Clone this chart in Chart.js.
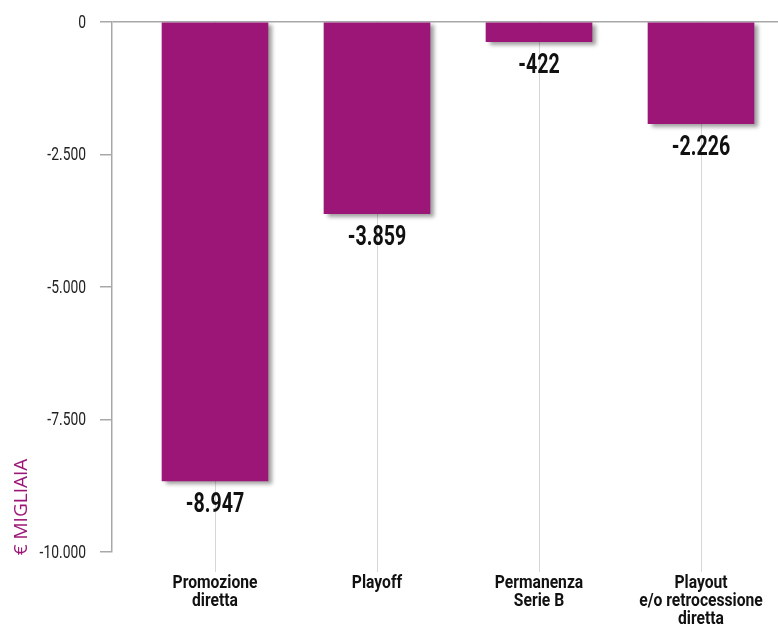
<!DOCTYPE html>
<html>
<head>
<meta charset="utf-8">
<script src="https://cdn.jsdelivr.net/npm/chart.js@4/dist/chart.umd.min.js"></script>
<style>
  html, body { margin: 0; padding: 0; background: #fff; }
  #wrap { width: 778px; height: 629px; }
</style>
</head>
<body>
<div id="wrap"><canvas id="chart" width="778" height="629"></canvas></div>
<script>
// scenari e valori (altezze barre, etichette come stampate)
const categories = [
  ['Promozione', 'diretta'],
  ['Playoff'],
  ['Permanenza', 'Serie B'],
  ['Playout', 'e/o retrocessione', 'diretta']
];
const barValues = [-8660, -3617, -372, -1919];
const valueLabels = ['-8.947', '-3.859', '-422', '-2.226'];
const yTicks = [0, -2500, -5000, -7500, -10000];
const yTickLabels = ['0', '-2.500', '-5.000', '-7.500', '-10.000'];
const yTitle = '€ MIGLIAIA';

const PURPLE = '#9c1677';
const AXIS = '#a8a8a8';
const FONT = "Roboto, 'DejaVu Sans', sans-serif";

// testo "condensato": il font originale è molto stretto
function narrowText(ctx, text, x, y, sx) {
  ctx.save();
  ctx.translate(x, y);
  ctx.scale(sx, 1);
  ctx.fillText(text, 0, 0);
  ctx.restore();
}

// ombra sotto le barre
const barShadow = {
  id: 'barShadow',
  beforeDatasetsDraw(chart) {
    const ctx = chart.ctx;
    ctx.save();
    ctx.shadowColor = 'rgba(0,0,0,0.38)';
    ctx.shadowBlur = 4;
    ctx.shadowOffsetX = 4;
    ctx.shadowOffsetY = 3;
  },
  afterDatasetsDraw(chart) {
    chart.ctx.restore();
  }
};

// etichette: valori, assi, titolo asse y
const labelsPlugin = {
  id: 'labelsPlugin',
  afterDraw(chart) {
    const ctx = chart.ctx;
    const xs = chart.scales.x;
    const ys = chart.scales.y;
    const meta = chart.getDatasetMeta(0);
    ctx.save();
    ctx.textBaseline = 'middle';

    // valori sotto le barre
    ctx.fillStyle = '#111';
    ctx.textAlign = 'center';
    ctx.font = 'bold 28px ' + FONT;
    meta.data.forEach((bar, i) => {
      narrowText(ctx, valueLabels[i], bar.x, bar.y + 24, 0.7);
    });

    // etichette categorie
    ctx.font = 'bold 18px ' + FONT;
    categories.forEach((lines, i) => {
      const x = xs.getPixelForValue(i);
      lines.forEach((t, j) => {
        narrowText(ctx, t, x, ys.bottom + 31 + j * 18, 0.87);
      });
    });

    // etichette asse y
    ctx.fillStyle = '#222';
    ctx.textAlign = 'right';
    ctx.font = '18px ' + FONT;
    yTicks.forEach((v, i) => {
      narrowText(ctx, yTickLabels[i], 86, ys.getPixelForValue(v) + 1, 0.77);
    });

    // titolo asse y
    ctx.translate(22, 507);
    ctx.rotate(-Math.PI / 2);
    ctx.textAlign = 'center';
    ctx.fillStyle = PURPLE;
    ctx.font = "19px 'Open Sans', sans-serif";
    ctx.fillText(yTitle, 0, 0);
    ctx.restore();
  }
};

const spacing = 162;        // distanza tra i centri delle barre
const xMin = -(215 - 112) / spacing;
const xMax = xMin + 666 / spacing;

new Chart(document.getElementById('chart'), {
  type: 'bar',
  data: {
    datasets: [{
      data: barValues.map((v, i) => ({ x: i, y: v })),
      backgroundColor: PURPLE,
      borderWidth: 0,
      barThickness: 106
    }]
  },
  options: {
    responsive: false,
    animation: false,
    layout: { padding: { top: 22, left: 0, right: 0, bottom: 0 } },
    plugins: {
      legend: { display: false },
      tooltip: { enabled: false }
    },
    scales: {
      x: {
        type: 'linear',
        min: xMin,
        max: xMax,
        offset: false,
        afterBuildTicks: (s) => { s.ticks = categories.map((_, i) => ({ value: i })); },
        afterFit: (s) => { s.height = 77; },
        border: { display: false },
        grid: {
          offset: false,
          color: 'rgba(0,0,0,0.16)',
          lineWidth: 1,
          tickLength: 20
        },
        ticks: { display: false }
      },
      y: {
        min: -10000,
        max: 0,
        afterBuildTicks: (s) => { s.ticks = yTicks.map(v => ({ value: v })); },
        afterFit: (s) => { s.width = 112; },
        border: { display: true, color: AXIS, width: 1.5 },
        grid: {
          color: (c) => (c.tick && c.tick.value === 0 ? AXIS : 'rgba(0,0,0,0)'),
          tickColor: AXIS,
          lineWidth: 1.5,
          tickLength: 12
        },
        ticks: { display: false }
      }
    }
  },
  plugins: [barShadow, labelsPlugin]
});
</script>
</body>
</html>
